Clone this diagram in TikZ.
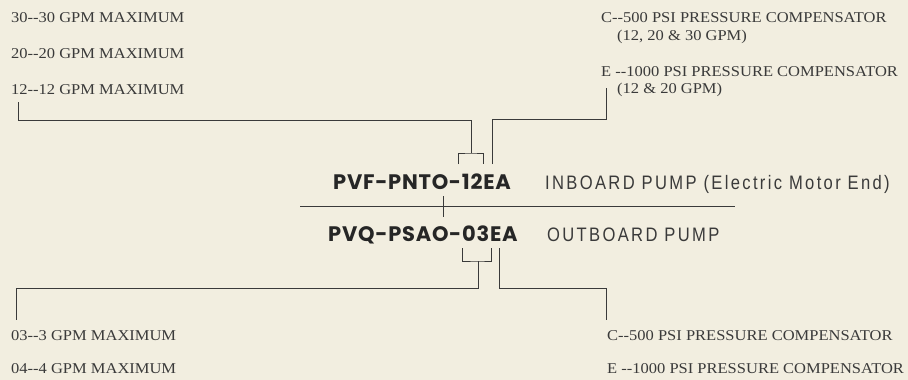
\documentclass[tikz,border=0pt]{standalone}
\usepackage{fontspec}
\usepackage{xcolor}
\usepackage{tikz}
\usetikzlibrary{calc}
\setmainfont{Liberation Serif}[FakeStretch=1.1]
\newfontfamily\partfont{Poppins}[LetterSpace=3.5]
\newfontfamily\notefont{Liberation Sans}[FakeStretch=0.85,LetterSpace=12]
\definecolor{paper}{RGB}{242,238,224}
\definecolor{ink}{RGB}{58,58,58}
\definecolor{darkink}{RGB}{38,38,38}
\tikzset{
  codelabel/.style={anchor=base west,inner sep=0pt,text=ink,font=\fontsize{15}{18}\selectfont},
  partnumber/.style={anchor=base west,inner sep=0pt,text=darkink,font=\partfont\bfseries\fontsize{21}{24}\selectfont},
  pumpnote/.style={anchor=base west,inner sep=0pt,text=ink,font=\notefont\fontsize{19.5}{22}\selectfont},
  leadline/.style={draw=ink,line width=1pt}
}
\begin{document}
\begin{tikzpicture}[x=1pt,y=-1pt]
  \fill[paper] (0,0) rectangle (908,380);
  \useasboundingbox (0,0) rectangle (908,380);
  % inboard pump codes
  \node[codelabel] (l30) at (11,22) {30-{}-30 GPM MAXIMUM};
  \node[codelabel] (l20) at (11,58) {20-{}-20 GPM MAXIMUM};
  \node[codelabel] (l12) at (11,94) {12-{}-12 GPM MAXIMUM};
  \node[codelabel] (c1) at (601,22) {C-{}-500 PSI PRESSURE COMPENSATOR};
  \node[codelabel] (c1b) at (617,40) {(12, 20 \& 30 GPM)};
  \node[codelabel] (e1) at (601,76) {E -{}-1000 PSI PRESSURE COMPENSATOR};
  \node[codelabel] (e1b) at (617,93) {(12 \& 20 GPM)};
  % part numbers
  \node[partnumber] (pvf) at (333,189) {PVF-PNTO-12EA};
  \node[pumpnote] (inboard) at (545,189) {INBOARD PUMP (Electric Motor End)};
  \node[partnumber] (pvq) at (328,241) {PVQ-PSAO-03EA};
  \node[pumpnote] (outboard) at (547,241) {OUTBOARD PUMP};
  % outboard pump codes
  \node[codelabel] (l03) at (11,340) {03-{}-3 GPM MAXIMUM};
  \node[codelabel] (l04) at (11,373) {04-{}-4 GPM MAXIMUM};
  \node[codelabel] (c2) at (607,340) {C-{}-500 PSI PRESSURE COMPENSATOR};
  \node[codelabel] (e2) at (607,373) {E -{}-1000 PSI PRESSURE COMPENSATOR};
  % divider
  \coordinate (rulew) at (300,206);
  \coordinate (rulee) at (735,206);
  \coordinate (tick) at (443,196);
  \draw[leadline] (rulew) -- (rulee);
  \draw[leadline] (tick) -- ++(0,21);
  % top leaders
  \coordinate (topfork) at (471,153);
  \coordinate (f12l) at (458,164);
  \coordinate (f12r) at (483,164);
  \coordinate (topE) at (492,164);
  \draw[leadline] (f12l) |- (topfork) -| (f12r);
  \draw[leadline] (topfork) -- ++(0,-33) -| ([shift={(7pt,-8pt)}]l12.base west);
  \draw[leadline] (topE) -- ++(0,-45) -| ([shift={(-11pt,5pt)}]e1b.base west);
  % bottom leaders
  \coordinate (botfork) at (478,261);
  \coordinate (f03l) at (462,248);
  \coordinate (f03r) at (491,248);
  \coordinate (botE) at (499,248);
  \draw[leadline] (f03l) |- (botfork) -| (f03r);
  \draw[leadline] (botfork) -- ++(0,27) -| ([shift={(5pt,20pt)}]l03.base west);
  \draw[leadline] (botE) -- ++(0,40) -| ([shift={(-1pt,20pt)}]c2.base west);
\end{tikzpicture}
\end{document}
